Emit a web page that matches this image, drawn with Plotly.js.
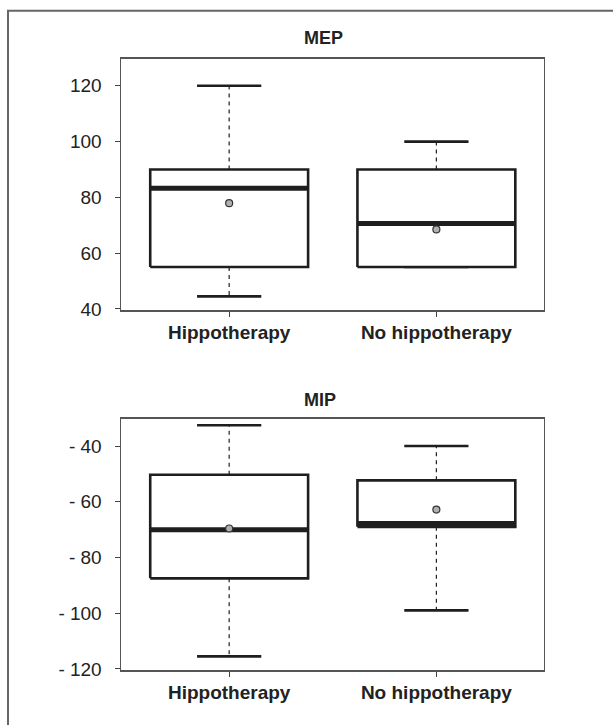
<!DOCTYPE html>
<html>
<head>
<meta charset="utf-8">
<script src="https://cdn.plot.ly/plotly-3.0.1.min.js"></script>
<style>
html,body{margin:0;padding:0;background:#fff;}
#chart{width:613px;height:725px;}
</style>
</head>
<body>
<div id="chart"></div>
<script>
// ---- Data ----
const categories = ['Hippotherapy', 'No hippotherapy'];

// MEP
const mepLower  = [44.5, 55];
const mepQ1     = [55, 55];
const mepMedian = [83.3, 70.6];
const mepQ3     = [90, 90];
const mepUpper  = [120, 100];
const mepMean   = [77.9, 68.5];
const mepTicks  = [40, 60, 80, 100, 120];
const mepTickText = ['40', '60', '80', '100', '120'];

// MIP
const mipLower  = [-115.5, -99];
const mipQ1     = [-87.5, -69];
const mipMedian = [-70, -67.8];
const mipQ3     = [-50.3, -52.3];
const mipUpper  = [-32.5, -40];
const mipMean   = [-69.6, -62.8];
const mipTicks  = [-120, -100, -80, -60, -40];
const mipTickText = ['- 120', '- 100', '- 80', '- 60', '- 40'];

// ---- Styling ----
const boxHalf = 0.381;
const capHalf = 0.155;
const ink = '#1e1e1e';
const frame = '#555555';

function boxTraces(lower, q1, med, q3, upper, mean, xa, ya) {
  const traces = [];
  categories.forEach((c, i) => {
    const x = i + 1;
    // whiskers (dashed)
    traces.push({type:'scatter', mode:'lines', xaxis:xa, yaxis:ya, hoverinfo:'skip',
      x:[x, x, null, x, x], y:[q3[i], upper[i], null, q1[i], lower[i]],
      line:{color:ink, width:1.2, dash:'4px,4px'}});
    // caps
    traces.push({type:'scatter', mode:'lines', xaxis:xa, yaxis:ya, hoverinfo:'skip',
      x:[x-capHalf, x+capHalf, null, x-capHalf, x+capHalf],
      y:[upper[i], upper[i], null, lower[i], lower[i]],
      line:{color:ink, width:2.6}});
    // box
    traces.push({type:'scatter', mode:'lines', xaxis:xa, yaxis:ya, hoverinfo:'skip',
      x:[x-boxHalf, x+boxHalf, x+boxHalf, x-boxHalf, x-boxHalf],
      y:[q1[i], q1[i], q3[i], q3[i], q1[i]],
      fill:'toself', fillcolor:'#ffffff',
      line:{color:ink, width:2.6}});
    // median
    traces.push({type:'scatter', mode:'lines', xaxis:xa, yaxis:ya, hoverinfo:'skip',
      x:[x-boxHalf, x+boxHalf], y:[med[i], med[i]],
      line:{color:ink, width:5}});
    // mean
    traces.push({type:'scatter', mode:'markers', xaxis:xa, yaxis:ya, hoverinfo:'skip',
      x:[x], y:[mean[i]],
      marker:{symbol:'circle', size:7, color:'#b0b0b0', line:{color:'#333', width:1.2}}});
  });
  return traces;
}

const data = [].concat(
  boxTraces(mepLower, mepQ1, mepMedian, mepQ3, mepUpper, mepMean, 'x', 'y'),
  boxTraces(mipLower, mipQ1, mipMedian, mipQ3, mipUpper, mipMean, 'x2', 'y2')
);

const W = 613, H = 725;
const px = v => v / W;
const py = v => 1 - v / H;

const tickFont = {family:'Liberation Sans, Arial, sans-serif', size:19, color:'#222'};
const catFont  = {family:'Liberation Sans, Arial, sans-serif', size:19, color:'#222', weight:'bold'};

function xAxis(anchor) {
  return {
    domain:[px(121), px(543.5)], anchor:anchor,
    range:[0.478, 2.517], type:'linear',
    tickvals: categories.map((c, i) => i + 1), ticktext: categories,
    tickfont: catFont,
    showgrid:false, zeroline:false, showline:true, mirror:true,
    linecolor:frame, linewidth:1.5,
    ticks:'outside', ticklen:5, tickwidth:1, tickcolor:'#444',
    fixedrange:true
  };
}
function yAxis(anchor, dom, range, vals, text) {
  return {
    domain:dom, anchor:anchor, range:range, type:'linear',
    tickvals:vals, ticktext:text, tickfont:tickFont,
    showgrid:false, zeroline:false, showline:true, mirror:true,
    linecolor:frame, linewidth:1.5,
    ticks:'outside', ticklen:5, tickwidth:1, tickcolor:'#444',
    ticklabelstandoff:9,
    fixedrange:true
  };
}

const layout = {
  width:W, height:H,
  margin:{l:0, r:0, t:0, b:0, pad:0},
  paper_bgcolor:'#ffffff', plot_bgcolor:'#ffffff',
  showlegend:false,
  xaxis: xAxis('y'),
  yaxis: yAxis('x', [py(310), py(58.5)], [39.6, 129.8], mepTicks, mepTickText),
  xaxis2: xAxis('y2'),
  yaxis2: yAxis('x2', [py(670), py(418.5)], [-120.4, -30.1], mipTicks, mipTickText),
  annotations:[
    {text:'<b>MEP</b>', xref:'paper', yref:'paper', x:px(302), y:py(38), xanchor:'left', yanchor:'middle',
     showarrow:false, font:{family:'Liberation Sans, Arial, sans-serif', size:18, color:'#222'}},
    {text:'<b>MIP</b>', xref:'paper', yref:'paper', x:px(302), y:py(399.5), xanchor:'left', yanchor:'middle',
     showarrow:false, font:{family:'Liberation Sans, Arial, sans-serif', size:18, color:'#222'}}
  ],
  shapes:[
    {type:'path', xref:'paper', yref:'paper',
     path:'M ' + px(8) + ' 0 L ' + px(8) + ' ' + py(10.7) + ' L 1 ' + py(10.7),
     line:{color:'#666666', width:2}}
  ]
};

Plotly.newPlot('chart', data, layout, {displayModeBar:false, staticPlot:true});
</script>
</body>
</html>
